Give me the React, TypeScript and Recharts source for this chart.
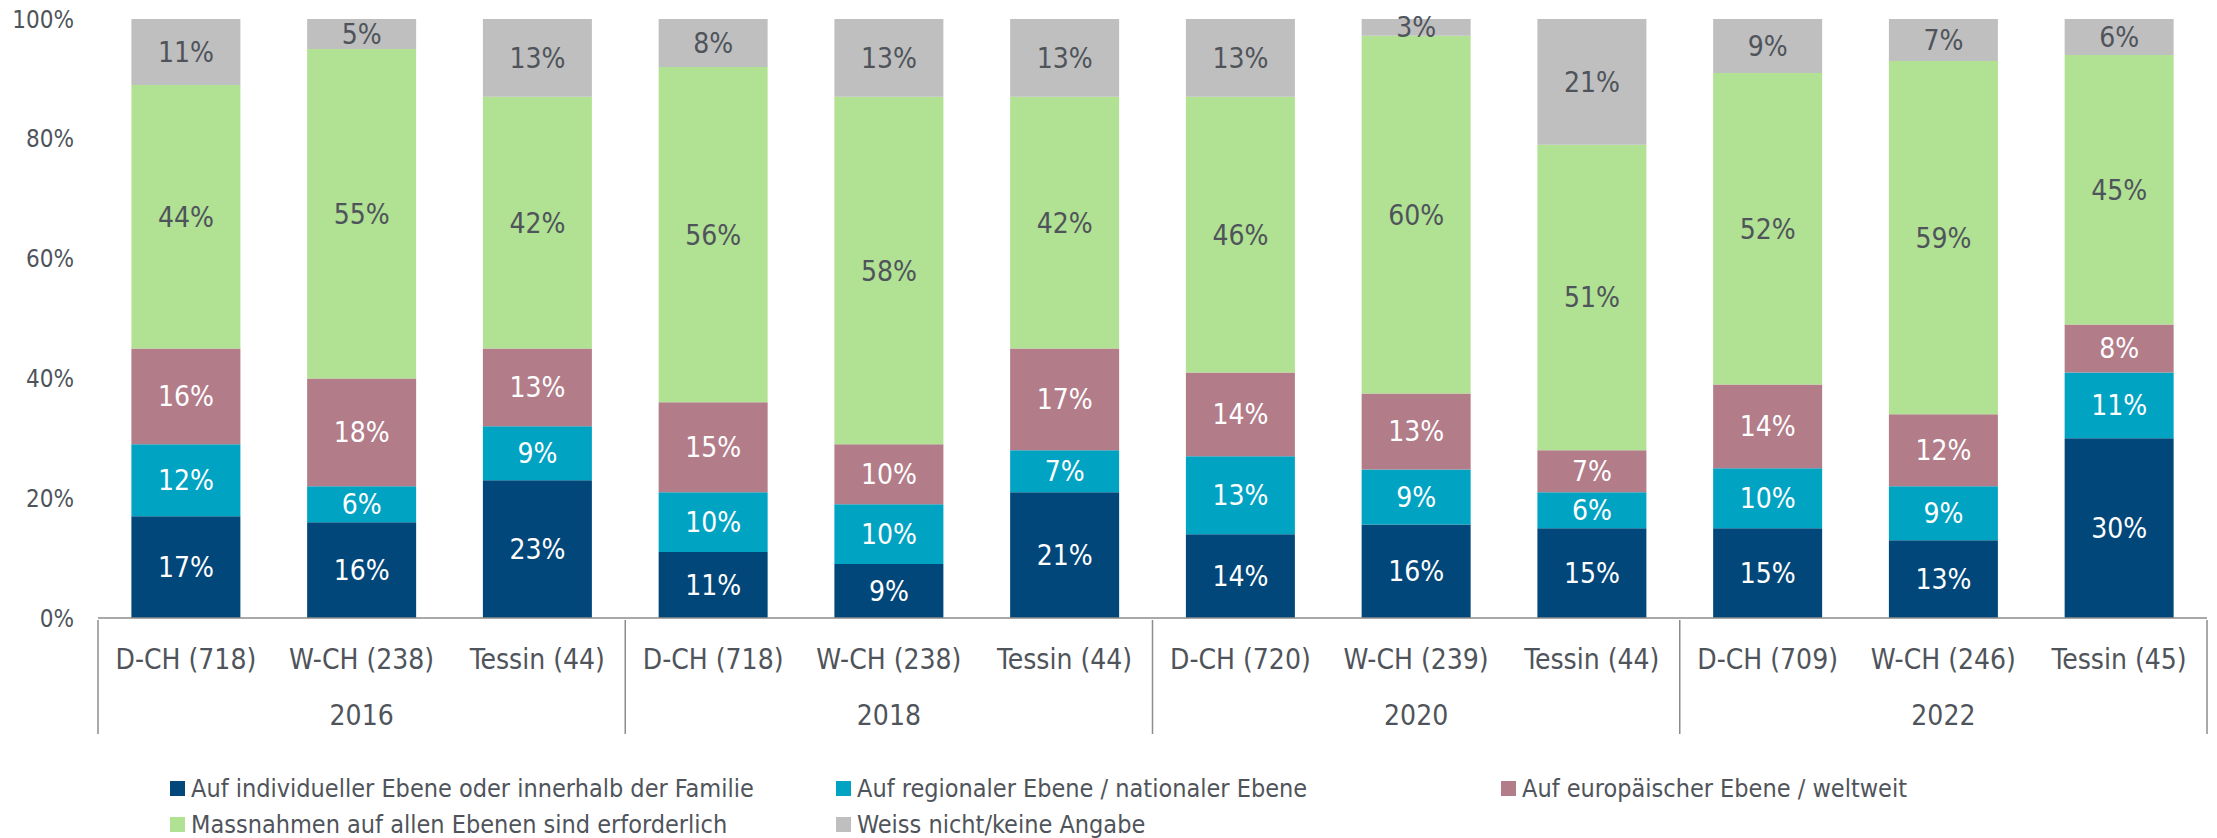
import { BarChart, Bar, XAxis, YAxis, Legend, LabelList } from 'recharts'

const categories = [
  'D-CH (718)', 'W-CH (238)', 'Tessin (44)',
  'D-CH (718)', 'W-CH (238)', 'Tessin (44)',
  'D-CH (720)', 'W-CH (239)', 'Tessin (44)',
  'D-CH (709)', 'W-CH (246)', 'Tessin (45)',
]
const years = ['2016', '2018', '2020', '2022']

// shares in %, bottom to top
const individuell = [17, 16, 23, 11, 9, 21, 14, 15.6, 15, 15, 13, 30]
const regional = [12, 6, 9, 10, 10, 7, 13, 9.2, 6, 10, 9, 11]
const europa = [16, 18, 13, 15, 10, 17, 14, 12.7, 7, 14, 12, 8]
const alleEbenen = [44, 55, 42, 56, 58, 42, 46, 59.7, 51, 52, 59, 45]
const weissNicht = [11, 5, 13, 8, 13, 13, 13, 2.8, 21, 9, 7, 6]

const yTicks = [0, 20, 40, 60, 80, 100]

const series = [
  { key: 'individuell', name: 'Auf individueller Ebene oder innerhalb der Familie', color: '#02477A', text: '#FFFFFF' },
  { key: 'regional', name: 'Auf regionaler Ebene / nationaler Ebene', color: '#01A3C3', text: '#FFFFFF' },
  { key: 'europa', name: 'Auf europäischer Ebene / weltweit', color: '#B27C89', text: '#FFFFFF' },
  { key: 'alleEbenen', name: 'Massnahmen auf allen Ebenen sind erforderlich', color: '#B1E193', text: '#4F545B' },
  { key: 'weissNicht', name: 'Weiss nicht/keine Angabe', color: '#BFBFBF', text: '#4F545B' },
]

const data = categories.map((label, i) => ({
  label,
  individuell: individuell[i],
  regional: regional[i],
  europa: europa[i],
  alleEbenen: alleEbenen[i],
  weissNicht: weissNicht[i],
}))

const FONT = '"DejaVu Sans Condensed", "DejaVu Sans", sans-serif'
const TEXT = '#4F545B'
const LINE = '#8C8C8C'
const BAND = (2207 - 98) / 12
const LEGEND_COLS = [170, 836, 1501]

function CategoryTick(props: any) {
  const { x, y, payload, index } = props
  return (
    <g>
      <text x={x} y={y + 39} textAnchor="middle" dominantBaseline="central" fill={TEXT} fontSize={28} fontFamily={FONT}>
        {payload.value}
      </text>
      {index % 3 === 1 && (
        <text x={x} y={y + 95} textAnchor="middle" dominantBaseline="central" fill={TEXT} fontSize={28} fontFamily={FONT}>
          {years[Math.floor(index / 3)]}
        </text>
      )}
      {index % 3 === 0 && <line x1={x - BAND / 2} x2={x - BAND / 2} y1={y} y2={y + 114} stroke={LINE} strokeWidth={1.5} />}
      {index === categories.length - 1 && (
        <line x1={x + BAND / 2} x2={x + BAND / 2} y1={y} y2={y + 114} stroke={LINE} strokeWidth={1.5} />
      )}
    </g>
  )
}

function LegendContent() {
  return (
    <div style={{ position: 'relative', width: 2217, height: 72, fontFamily: FONT, fontSize: 25, color: TEXT }}>
      {series.map((s, i) => (
        <div
          key={s.key}
          style={{
            position: 'absolute',
            left: LEGEND_COLS[i % 3],
            top: Math.floor(i / 3) * 36,
            display: 'flex',
            alignItems: 'center',
            height: 36,
            whiteSpace: 'nowrap',
          }}
        >
          <span style={{ width: 15, height: 15, background: s.color, marginRight: 6, flex: 'none' }} />
          {s.name}
        </div>
      ))}
    </div>
  )
}

export default function App() {
  return (
    <div style={{ position: 'absolute', left: 0, top: 0, background: '#fff' }}>
      <BarChart width={2217} height={838} data={data} margin={{ top: 19, right: 10, left: 0, bottom: 28 }} barCategoryGap="19%">
        <YAxis
          type="number"
          domain={[0, 100]}
          ticks={yTicks}
          width={98}
          axisLine={false}
          tickLine={false}
          tickSize={0}
          tickMargin={24}
          tickFormatter={v => `${v}%`}
          tick={{ fill: TEXT, fontSize: 24, fontFamily: FONT }}
        />
        <XAxis
          dataKey="label"
          interval={0}
          height={120}
          tickLine={false}
          tickSize={0}
          axisLine={{ stroke: LINE, strokeWidth: 1.5 }}
          tick={<CategoryTick />}
        />
        <Legend
          verticalAlign="bottom"
          height={72}
          content={<LegendContent />}
          wrapperStyle={{ left: 0, top: 770, bottom: 'auto', width: 2217 }}
        />
        {series.map(s => (
          <Bar key={s.key} dataKey={s.key} name={s.name} stackId="a" fill={s.color} isAnimationActive={false}>
            <LabelList
              dataKey={s.key}
              position="center"
              formatter={(v: any) => `${Math.round(Number(v))}%`}
              fill={s.text}
              fontSize={28}
              fontFamily={FONT}
            />
          </Bar>
        ))}
      </BarChart>
    </div>
  )
}
